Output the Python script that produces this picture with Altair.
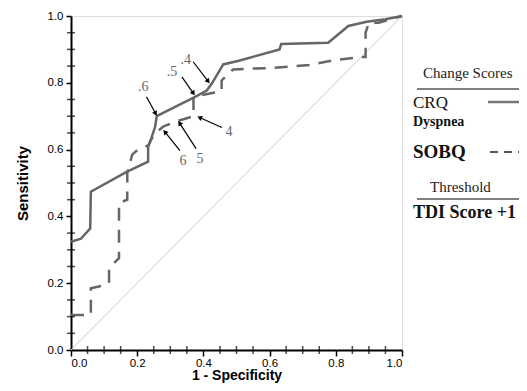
import math
import altair as alt
import pandas as pd

# ---------------- data ----------------
crq_x = [0.0, 0.03, 0.058, 0.06, 0.168, 0.233, 0.233, 0.244, 0.254, 0.259, 0.375, 0.41, 0.425,
         0.46, 0.51, 0.63, 0.635, 0.777, 0.838, 0.893, 0.95, 1.0]
crq_y = [0.324, 0.333, 0.364, 0.474, 0.533, 0.564, 0.608, 0.638, 0.668, 0.70, 0.758, 0.777, 0.797,
         0.855, 0.867, 0.90, 0.916, 0.92, 0.97, 0.983, 0.99, 1.0]

sobq_x = [0.0, 0.06, 0.06, 0.105, 0.115, 0.115, 0.145, 0.145, 0.17, 0.17, 0.185, 0.2, 0.234, 0.25,
          0.28, 0.32, 0.37, 0.37, 0.455, 0.455, 0.49, 0.53, 0.60, 0.72, 0.79, 0.873, 0.89, 0.89,
          0.90, 0.93, 1.0]
sobq_y = [0.105, 0.105, 0.185, 0.195, 0.20, 0.245, 0.275, 0.44, 0.45, 0.53, 0.585, 0.598, 0.613, 0.645,
          0.67, 0.685, 0.70, 0.758, 0.775, 0.807, 0.84, 0.842, 0.844, 0.853, 0.867, 0.877, 0.877, 0.95,
          0.98, 0.98, 1.0]

ann_label = [".6", ".5", ".4", "6", "5", "4"]
ann_text_x = [0.218, 0.305, 0.347, 0.338, 0.39, 0.477]
ann_text_y = [0.788, 0.833, 0.869, 0.567, 0.573, 0.654]
ann_tail_x = [0.228, 0.335, 0.369, 0.329, 0.378, 0.456]
ann_tail_y = [0.758, 0.818, 0.863, 0.597, 0.603, 0.666]
ann_head_x = [0.26, 0.375, 0.42, 0.278, 0.323, 0.38]
ann_head_y = [0.70, 0.761, 0.797, 0.66, 0.687, 0.70]

major_ticks = [0.0, 0.2, 0.4, 0.6, 0.8, 1.0]
minor_ticks = [0.05, 0.1, 0.15, 0.25, 0.3, 0.35, 0.45, 0.5, 0.55, 0.65, 0.7, 0.75,
               0.85, 0.9, 0.95]

W, H = 331, 334

# ---------------- tables ----------------
crq = pd.DataFrame({"x": crq_x, "y": crq_y, "i": range(len(crq_x))})
sobq = pd.DataFrame({"x": sobq_x, "y": sobq_y, "i": range(len(sobq_x))})
diag = pd.DataFrame({"x": [0.0, 1.0], "y": [0.0, 1.0]})

rows = []
for lab, tx, ty, ax0, ay0, hx, hy in zip(ann_label, ann_text_x, ann_text_y,
                                         ann_tail_x, ann_tail_y, ann_head_x, ann_head_y):
    dxp = (hx - ax0) * W
    dyp = -(hy - ay0) * H  # screen down positive
    ang = math.degrees(math.atan2(dxp, -dyp)) % 360
    L = math.hypot(dxp, dyp)
    back = 3.0
    cx = hx - (dxp / L) * back / W
    cy = hy + (dyp / L) * back / H
    rows.append(dict(label=lab, tx=tx, ty=ty, ax=ax0, ay=ay0, hx=cx, hy=cy, ang=ang))
ann = pd.DataFrame(rows)

xs = alt.Scale(domain=[0, 1], nice=False, zero=False)
ys = alt.Scale(domain=[0, 1], nice=False, zero=False)

x_axis = alt.Axis(values=major_ticks, format=".1f", title="1 - Specificity", grid=False,
                  tickSize=6, tickWidth=1.5, tickColor="black", domainColor="black",
                  domainWidth=2, labelFont="Liberation Sans", labelFontSize=11.5,
                  labelColor="black", labelPadding=1, titleFont="Liberation Sans",
                  titleFontSize=14, titleFontWeight="bold", titleColor="black",
                  titlePadding=0)
y_axis = alt.Axis(values=major_ticks, format=".1f", title="Sensitivity", grid=False,
                  tickSize=5, tickWidth=1.5, tickColor="black", domainColor="black",
                  domainWidth=2, labelFont="Liberation Sans", labelFontSize=11.5,
                  labelColor="black", labelPadding=3, titleFont="Liberation Sans",
                  titleFontSize=15, titleFontWeight="bold", titleColor="black",
                  titlePadding=17)

diag_layer = alt.Chart(diag).mark_line(color="#cccccc", strokeWidth=1).encode(
    x=alt.X("x:Q", scale=xs, axis=x_axis),
    y=alt.Y("y:Q", scale=ys, axis=y_axis),
)

crq_layer = alt.Chart(crq).mark_line(color="#666666", strokeWidth=2.5).encode(
    x=alt.X("x:Q", scale=xs), y=alt.Y("y:Q", scale=ys), order="i:Q")

sobq_layer = alt.Chart(sobq).mark_line(color="#666666", strokeWidth=2.5,
                                       strokeDash=[13, 9]).encode(
    x=alt.X("x:Q", scale=xs), y=alt.Y("y:Q", scale=ys), order="i:Q")

xminor = alt.Chart(pd.DataFrame({"v": minor_ticks})).mark_tick(
    orient="vertical", size=8, thickness=1.5, color="black").encode(
    x=alt.X("v:Q", scale=xs), y=alt.value(H))
yminor = alt.Chart(pd.DataFrame({"v": minor_ticks})).mark_tick(
    orient="horizontal", size=8, thickness=1.5, color="black").encode(
    y=alt.Y("v:Q", scale=ys), x=alt.value(0))

arrows = alt.Chart(ann).mark_rule(color="black", strokeWidth=1.2).encode(
    x=alt.X("ax:Q", scale=xs), y=alt.Y("ay:Q", scale=ys),
    x2="hx:Q", y2="hy:Q")
heads = alt.Chart(ann).mark_point(shape="triangle-up", filled=True, color="black",
                                  size=30, opacity=1).encode(
    x=alt.X("hx:Q", scale=xs), y=alt.Y("hy:Q", scale=ys), angle=alt.Angle("ang:Q", scale=None))
labels = alt.Chart(ann).mark_text(font="Liberation Serif", fontSize=14, color="#666666").encode(
    x=alt.X("tx:Q", scale=xs), y=alt.Y("ty:Q", scale=ys), text="label:N")

# ---------------- legend (drawn manually) ----------------
one = pd.DataFrame({"a": [0]})


def ltext(txt, x, y, size, bold=False, color="#111111"):
    return alt.Chart(one).mark_text(text=txt, font="Liberation Serif", fontSize=size,
                                    fontWeight="bold" if bold else "normal", align="left",
                                    baseline="middle", color=color).encode(
        x=alt.value(x), y=alt.value(y))


def lrule(x1, x2, y, color, width, dash=None):
    kw = dict(color=color, strokeWidth=width)
    if dash:
        kw["strokeDash"] = dash
    return alt.Chart(one).mark_rule(**kw).encode(x=alt.value(x1), x2=alt.value(x2), y=alt.value(y))


legend = [
    ltext("Change Scores", 352, 57, 15, color="#222222"),
    lrule(346, 454, 73, "#555555", 1.5),
    ltext("CRQ", 342, 87, 17),
    lrule(417, 454, 86, "#777777", 2.5),
    ltext("Dyspnea", 342, 106, 14, bold=True),
    ltext("SOBQ", 342, 136, 19, bold=True),
    lrule(419, 454, 136, "#555555", 2, [8, 6]),
    ltext("Threshold", 359, 171, 15, color="#222222"),
    lrule(346, 454, 183, "#555555", 1.5),
    ltext("TDI Score +1", 342, 197, 18, bold=True),
]

chart = alt.layer(diag_layer, crq_layer, sobq_layer, xminor, yminor, arrows, heads, labels,
                  *legend).properties(
    width=W, height=H,
    autosize=alt.AutoSizeParams(type="none"),
    padding={"left": 63, "top": 8, "right": 117, "bottom": 33},
).configure_view(stroke="black", strokeWidth=1.5).configure(background="white")

chart.save("out.html", embed_options={"renderer": "svg", "actions": False})
